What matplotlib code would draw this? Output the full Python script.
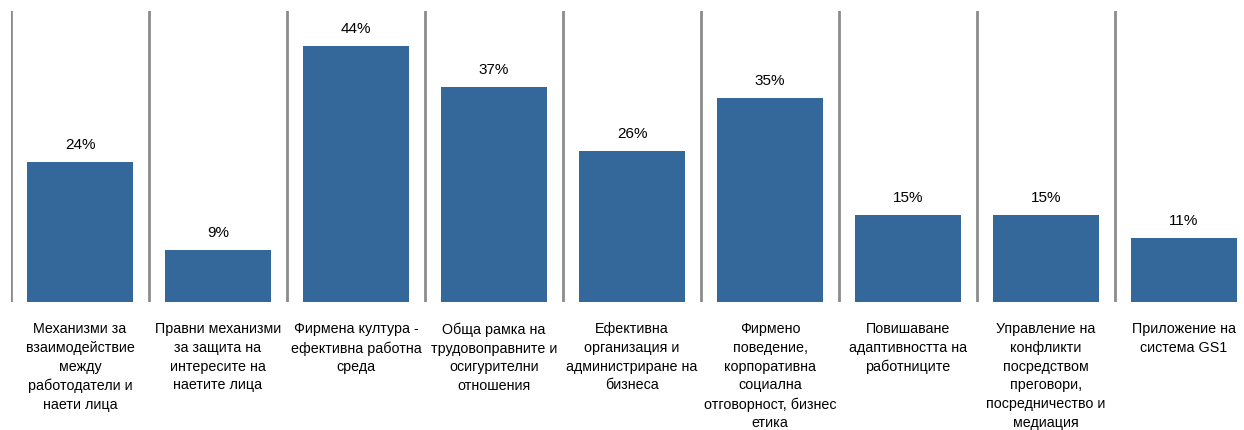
import matplotlib.pyplot as plt

categories = [
    "Механизми за\nвзаимодействие\nмежду\nработодатели и\nнаети лица",
    "Правни механизми\nза защита на\nинтересите на\nнаетите лица",
    "Фирмена култура -\nефективна работна\nсреда",
    "Обща рамка на\nтрудовоправните и\nосигурителни\nотношения",
    "Ефективна\nорганизация и\nадминистриране на\nбизнеса",
    "Фирмено\nповедение,\nкорпоративна\nсоциална\nотговорност, бизнес\nетика",
    "Повишаване\nадаптивността на\nработниците",
    "Управление на\nконфликти\nпосредством\nпреговори,\nпосредничество и\nмедиация",
    "Приложение на\nсистема GS1",
]
values = [24, 9, 44, 37, 26, 35, 15, 15, 11]

plt.rcParams['font.family'] = ['Liberation Sans', 'DejaVu Sans']

W, H = 1244, 431
fig = plt.figure(figsize=(W / 100, H / 100), dpi=100)
# plot area runs a bit past the right edge, as in the original
ax = fig.add_axes([11 / W, (H - 303) / H, (1253 - 11) / W, (303 - 12) / H])

x = list(range(len(values)))
ax.bar(x, values, width=0.77, color='#34679a')
for i, v in zip(x, values):
    ax.text(i, v + 1.9, f"{v}%", ha='center', va='bottom', fontsize=11)
    ax.axvline(i - 0.5, color='#8c8c8c', lw=2)

ax.set_xlim(-0.5, len(values) - 0.5)
ax.set_ylim(0, 50)
ax.set_yticks([])
ax.set_xticks(x)
ax.set_xticklabels(categories, fontsize=10.3, linespacing=1.42)
ax.tick_params(axis='x', length=0, pad=14)
for s in ax.spines.values():
    s.set_visible(False)

fig.savefig('out.png', dpi=100)
